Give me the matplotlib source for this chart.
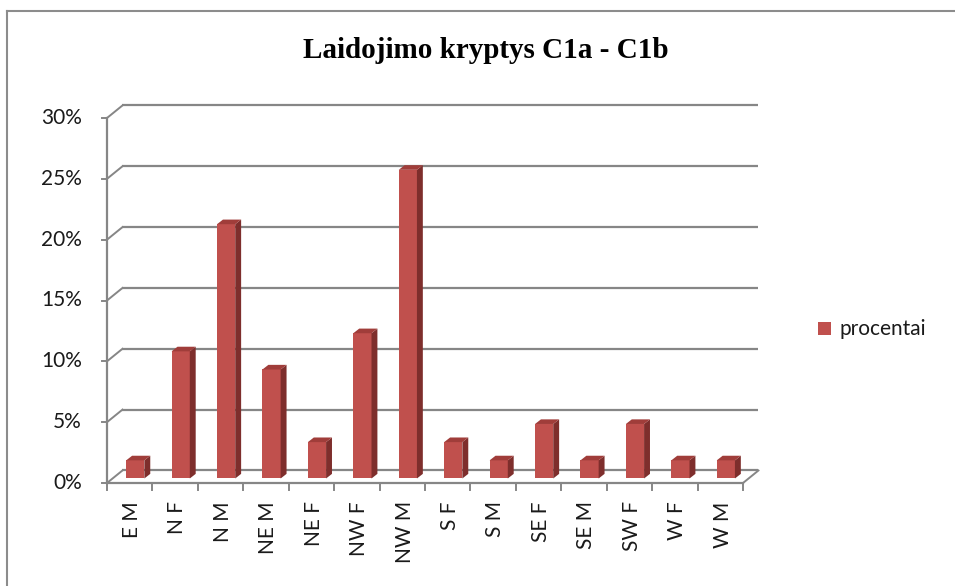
import numpy as np
import matplotlib.pyplot as plt
from matplotlib.patches import Polygon
from matplotlib.lines import Line2D

# ---------------- data ----------------
categories = ['E M', 'N F', 'N M', 'NE M', 'NE F', 'NW F', 'NW M',
              'S F', 'S M', 'SE F', 'SE M', 'SW F', 'W F', 'W M']
procentai = [1.49, 10.45, 20.9, 8.96, 2.99, 11.94, 25.37,
             2.99, 1.49, 4.48, 1.49, 4.48, 1.49, 1.49]
yticks = [0, 5, 10, 15, 20, 25, 30]
ytick_labels = ['0%', '5%', '10%', '15%', '20%', '25%', '30%']

W, H = 955, 586
fig = plt.figure(figsize=(W / 100, H / 100), dpi=100)
fig.patch.set_facecolor('white')

# front plot area in pixels: x 107..743, y 483..118
ax = fig.add_axes([107 / W, (H - 483) / H, 636 / W, 365 / H])
ax.set_xlim(0, len(categories))
ax.set_ylim(0, 30)
ax.axis('off')

grid_col = '#868686'
txt_col = '#1a1a1a'
# 3d depth of the wall/floor, in data units
dx, dy = 0.34, 1.03

n = len(categories)
# back wall gridlines + left diagonals + tick marks
for v, lab in zip(yticks, ytick_labels):
    ax.plot([dx, n + dx], [v + dy, v + dy], color=grid_col, lw=1.6,
            clip_on=False, solid_capstyle='butt')
    ax.plot([0, dx], [v, v + dy], color=grid_col, lw=1.4, clip_on=False)
    ax.plot([-0.12, 0], [v, v], color=grid_col, lw=1.4, clip_on=False)
    ax.text(-0.55, v, lab, ha='right', va='center',
            fontsize=15, family='Lato', color=txt_col)
# front vertical axis
ax.plot([0, 0], [0, 30], color=grid_col, lw=1.6, clip_on=False)
# floor
ax.plot([0, n], [0, 0], color=grid_col, lw=1.6, clip_on=False)
ax.plot([n, n + dx], [0, dy], color=grid_col, lw=1.4, clip_on=False)
for i in range(n + 1):
    ax.plot([i, i], [0, -0.55], color=grid_col, lw=1.4, clip_on=False)

# bars (front face at part of the depth)
f = 0.36
bw = 0.4
sx, sy = 0.13, 0.38
xs = np.arange(n) + 0.5 + f * dx
base = f * dy
ax.bar(xs, procentai, width=bw, bottom=base, color='#C0504D',
       edgecolor='none', zorder=3)
for x, v in zip(xs, procentai):
    l, r = x - bw / 2, x + bw / 2
    top = base + v
    side = Polygon([(r, base), (r + sx, base + sy), (r + sx, top + sy), (r, top)],
                   closed=True, facecolor='#7E2E2C', edgecolor='none', zorder=3)
    lid = Polygon([(l, top), (l + sx, top + sy), (r + sx, top + sy), (r, top)],
                  closed=True, facecolor='#A03D3A', edgecolor='none', zorder=3)
    ax.add_patch(side)
    ax.add_patch(lid)

# category labels
for i, c in enumerate(categories):
    ax.text(i + 0.55, -1.5, c, rotation=90, ha='center', va='top',
            fontsize=15, family='Lato', color=txt_col)

# title
fig.text(486 / W, 1 - 50 / H, 'Laidojimo kryptys C1a - C1b', ha='center',
         va='center', fontsize=21, fontweight='bold', family='Liberation Serif')

# legend
fig.patches.append(Polygon([(818 / W, 1 - 322 / H), (831 / W, 1 - 322 / H),
                            (831 / W, 1 - 335 / H), (818 / W, 1 - 335 / H)],
                           closed=True, transform=fig.transFigure,
                           facecolor='#C0504D', edgecolor='none'))
fig.text(839 / W, 1 - 329 / H, 'procentai', ha='left', va='center',
         fontsize=15, family='Lato', color=txt_col)

# chart border (top and left visible)
fig.add_artist(Line2D([7 / W, 1], [1 - 11 / H, 1 - 11 / H], transform=fig.transFigure,
                      color='#8C8C8C', lw=1.5))
fig.add_artist(Line2D([7 / W, 7 / W], [0, 1 - 11 / H], transform=fig.transFigure,
                      color='#8C8C8C', lw=1.5))

fig.savefig('out.png', dpi=100)
